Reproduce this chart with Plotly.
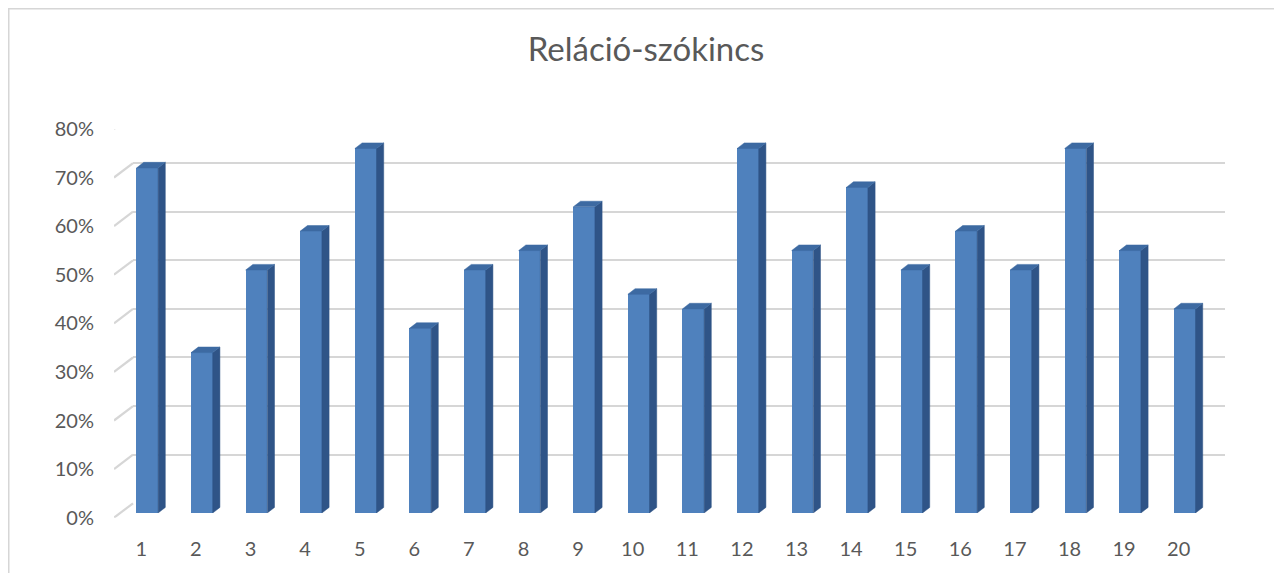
import plotly.graph_objects as go

# ---------------- data ----------------
categories = [str(i) for i in range(1, 21)]
values = [0.71, 0.33, 0.50, 0.58, 0.75, 0.38, 0.50, 0.54, 0.63, 0.45,
          0.42, 0.75, 0.54, 0.67, 0.50, 0.58, 0.50, 0.75, 0.54, 0.42]
y_ticks = [0.0, 0.1, 0.2, 0.3, 0.4, 0.5, 0.6, 0.7, 0.8]
y_tick_labels = ["0%", "10%", "20%", "30%", "40%", "50%", "60%", "70%", "80%"]
title_text = "Reláció-szókincs"

# ---------------- geometry / style ----------------
PAGE_W, PAGE_H = 1282, 581
BODY_MARGIN = 8                       # default <body> margin of the html page
FW, FH = PAGE_W - 2 * BODY_MARGIN, PAGE_H - 2 * BODY_MARGIN


def px(x):
    """page pixel x -> paper fraction"""
    return (x - BODY_MARGIN) / FW


def py(y):
    """page pixel y -> paper fraction"""
    return 1 - (y - BODY_MARGIN) / FH


FONT = "Lato"
TEXT_COLOR = "#595959"
GRID_COLOR = "#d6d6d6"
FRONT_COLOR = "#4f81bd"
SIDE_COLOR = "#2f5487"
TOP_COLOR = "#3d6aa2"

Y_MAX = 0.8
PX_PER_UNIT_Y = 486.0          # pixels per 1.0 on the value axis
PLOT_W = 1092.0                # width of the category plane in px
PX_PER_CAT = PLOT_W / 20.0

BAR_W = 0.396                  # front face width (category units)
SIDE_DX = 7.2 / PX_PER_CAT     # depth of bar side face
SIDE_DY = 5.6 / PX_PER_UNIT_Y

xs = list(range(1, len(categories) + 1))

# front-plane (labels) geometry
FRONT_LEFT, FRONT_BASE = 114.0, 517.7
# back wall
BACK_LEFT, BACK_BASE = 133.0, 503.3
# bar front-face plane
BAR_LEFT, BAR_BASE = 120.0, 513.0

fig = go.Figure()

# --- back wall grid subplot (x, y) ---
fig.add_trace(go.Scatter(x=[None], y=[None], xaxis="x", yaxis="y",
                         showlegend=False, hoverinfo="skip"))

# --- bars subplot (x2, y2) ---
fig.add_trace(go.Bar(x=xs, y=values, width=BAR_W, xaxis="x2", yaxis="y2",
                     marker=dict(color=FRONT_COLOR, line=dict(width=0)),
                     showlegend=False, hoverinfo="skip"))

side_x, side_y, top_x, top_y = [], [], [], []
for x, v in zip(xs, values):
    r = x + BAR_W / 2
    l = x - BAR_W / 2
    side_x += [r, r + SIDE_DX, r + SIDE_DX, r, r, None]
    side_y += [0, SIDE_DY, v + SIDE_DY, v, 0, None]
    top_x += [l, r, r + SIDE_DX, l + SIDE_DX, l, None]
    top_y += [v, v, v + SIDE_DY, v + SIDE_DY, v, None]

fig.add_trace(go.Scatter(x=side_x, y=side_y, xaxis="x2", yaxis="y2",
                         mode="lines", fill="toself", fillcolor=SIDE_COLOR,
                         line=dict(width=0.5, color=SIDE_COLOR),
                         showlegend=False, hoverinfo="skip"))
fig.add_trace(go.Scatter(x=top_x, y=top_y, xaxis="x2", yaxis="y2",
                         mode="lines", fill="toself", fillcolor=TOP_COLOR,
                         line=dict(width=0.5, color=TOP_COLOR),
                         showlegend=False, hoverinfo="skip"))

# --- front labels subplot (x3, y3) ---
fig.add_trace(go.Scatter(x=[None], y=[None], xaxis="x3", yaxis="y3",
                         showlegend=False, hoverinfo="skip"))

# diagonal side-wall lines
DEPTH_DX = (BACK_LEFT - FRONT_LEFT) / PX_PER_CAT
DEPTH_DY = (FRONT_BASE - BACK_BASE) / PX_PER_UNIT_Y
shapes = []
for t in y_ticks:
    shapes.append(dict(type="line", xref="x3", yref="y3",
                       x0=0.5, y0=t, x1=0.5 + DEPTH_DX, y1=t + DEPTH_DY,
                       line=dict(color=GRID_COLOR, width=2.2), layer="below"))

# chart border
shapes.append(dict(type="rect", xref="paper", yref="paper",
                   x0=px(8.75), y0=py(620), x1=px(1320), y1=py(8.75),
                   line=dict(color=GRID_COLOR, width=1.5), layer="below"))

hidden = dict(showgrid=False, zeroline=False, showline=False,
              showticklabels=False, ticks="", automargin=False)

fig.update_layout(
    width=FW, height=FH,
    margin=dict(l=0, r=0, t=0, b=0, autoexpand=False),
    paper_bgcolor="white", plot_bgcolor="rgba(0,0,0,0)",
    font=dict(family=FONT, color=TEXT_COLOR, size=20),
    title=dict(text=title_text, x=px(646), xanchor="center",
               y=py(49), yanchor="middle", automargin=False,
               font=dict(family=FONT, size=33, color=TEXT_COLOR)),
    bargap=0,
    shapes=shapes,
    # back wall
    xaxis=dict(domain=[px(BACK_LEFT), px(BACK_LEFT + PLOT_W)],
               range=[0.5, 20.5], anchor="y", **hidden),
    yaxis=dict(domain=[py(BACK_BASE), py(BACK_BASE - Y_MAX * PX_PER_UNIT_Y)],
               range=[-0.0005, Y_MAX + 0.0005], anchor="x",
               tickvals=y_ticks, showgrid=True, gridcolor=GRID_COLOR,
               gridwidth=2.2, zeroline=False, showline=False,
               showticklabels=False, ticks="", automargin=False),
    # bars
    xaxis2=dict(domain=[px(BAR_LEFT), px(BAR_LEFT + PLOT_W)],
                range=[0.5, 20.5], anchor="y2", **hidden),
    yaxis2=dict(domain=[py(BAR_BASE), py(BAR_BASE - Y_MAX * PX_PER_UNIT_Y)],
                range=[0, Y_MAX], anchor="x2", **hidden),
    # front labels
    xaxis3=dict(domain=[px(FRONT_LEFT), px(FRONT_LEFT + PLOT_W)],
                range=[0.5, 20.5], anchor="y3", automargin=False,
                tickvals=xs, ticktext=categories, showgrid=False,
                zeroline=False, showline=False, ticks="",
                ticklabelstandoff=17,
                tickfont=dict(family=FONT, size=20, color=TEXT_COLOR)),
    yaxis3=dict(domain=[py(FRONT_BASE), py(FRONT_BASE - Y_MAX * PX_PER_UNIT_Y)],
                range=[0, Y_MAX], anchor="x3", automargin=False,
                tickvals=y_ticks, ticktext=y_tick_labels, showgrid=False,
                zeroline=False, showline=False, ticks="",
                ticklabelstandoff=19,
                tickfont=dict(family=FONT, size=20, color=TEXT_COLOR)),
)

fig.write_html("out.html")
